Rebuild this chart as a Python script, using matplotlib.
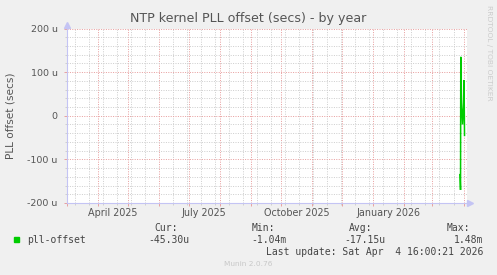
#!/usr/bin/env python3
"""Munin 风格 NTP kernel PLL offset 年视图重绘（rrdtool 外观）"""

import matplotlib
matplotlib.use('Agg')
import matplotlib.pyplot as plt
import matplotlib.dates as mdates
import matplotlib.transforms as mtransforms
from matplotlib.patches import Rectangle
from datetime import datetime, timedelta

# ---- 数据（单位：微秒 u）----
sample_times = [
    datetime(2026, 3, 28, 12), datetime(2026, 3, 29, 0), datetime(2026, 3, 29, 6),
    datetime(2026, 3, 30, 0), datetime(2026, 3, 31, 0), datetime(2026, 4, 1, 0),
    datetime(2026, 4, 1, 12), datetime(2026, 4, 2, 0),
]
pll_offset_u = [-135, -170, 135, 30, -20, 20, 82, -45]

y_ticks = [-200, -100, 0, 100, 200]
y_tick_labels = ['-200 u', '-100 u', '0', '100 u', '200 u']
month_labels = ['April 2025', 'July 2025', 'October 2025', 'January 2026']
month_label_dates = [datetime(2025, 4, 16), datetime(2025, 7, 16),
                     datetime(2025, 10, 16), datetime(2026, 1, 16)]

end_time = datetime(2026, 4, 4, 16, 0, 21)
start_time = end_time - timedelta(days=400)

legend_cols = ['Cur:', 'Min:', 'Avg:', 'Max:']
legend_vals = ['-45.30u', '-1.04m', '-17.15u', '1.48m']

BG = '#f0f0f0'
GREEN = '#00cc00'
MAJOR = '#e8a0a0'
MINOR = '#cfcfcf'
AXIS = '#c4c4f4'
TXT = '#555555'

W, H = 497, 275
fig = plt.figure(figsize=(W / 100, H / 100), dpi=100, facecolor=BG)
ax = fig.add_axes([66.7 / W, 1 - 203 / H, 400.5 / W, 174.5 / H])
ax.set_facecolor('white')

ax.plot(sample_times, pll_offset_u, color=GREEN, linewidth=1.1, solid_joinstyle='miter')

ax.set_xlim(start_time, end_time)
ax.set_ylim(-200, 200)

# 网格：月为主线（红），两周为次线（灰）；纵向 100u 主线，20u 次线
ax.xaxis.set_major_locator(mdates.MonthLocator())
biweekly = []
d = datetime(2025, 3, 9)
while d < end_time:
    biweekly.append(mdates.date2num(d))
    d += timedelta(days=14)
ax.xaxis.set_minor_locator(matplotlib.ticker.FixedLocator(biweekly))
ax.xaxis.set_major_formatter(matplotlib.ticker.NullFormatter())
ax.set_yticks(y_ticks)
ax.set_yticklabels(y_tick_labels)
ax.set_yticks(range(-200, 201, 20), minor=True)

ax.grid(True, which='minor', color=MINOR, linestyle=(0, (1, 1.4)), linewidth=0.72)
ax.grid(True, which='major', color=MAJOR, linestyle=(0, (1, 1.4)), linewidth=0.72)
ax.set_axisbelow(True)

ax.tick_params(axis='both', which='major', length=2.5, width=0.7, color=MAJOR,
               labelsize=6.8, labelcolor=TXT, pad=4)
ax.tick_params(axis='both', which='minor', length=1.5, width=0.7, color=MINOR)

for side in ('top', 'right'):
    ax.spines[side].set_visible(False)
for side in ('left', 'bottom'):
    ax.spines[side].set_color(AXIS)
    ax.spines[side].set_linewidth(0.8)

# 坐标轴箭头
ax.plot([0], [1.02], marker='^', markersize=4, color=AXIS, transform=ax.transAxes,
        clip_on=False)
ax.plot([1.0075], [0], marker='>', markersize=4, color=AXIS, transform=ax.transAxes,
        clip_on=False)

# 月份标签
trans = mtransforms.blended_transform_factory(ax.transData, ax.transAxes)
for lbl, dt in zip(month_labels, month_label_dates):
    ax.text(mdates.date2num(dt), -0.055, lbl, transform=trans, ha='center', va='center',
            fontsize=6.9, color=TXT)

# 标题/轴标签
fig.text(248 / W, 1 - 18.5 / H, 'NTP kernel PLL offset (secs) - by year',
         ha='center', va='center', fontsize=9.1, color=TXT)
fig.text(11 / W, 1 - 116 / H, 'PLL offset (secs)', rotation=90,
         ha='center', va='center', fontsize=7.6, color=TXT)
fig.text(488.5 / W, 1 - 5 / H, 'RRDTOOL / TOBI OETIKER', rotation=270,
         ha='center', va='top', fontsize=5.4, color='#cccccc')

# 图例区
mono = 'DejaVu Sans Mono'
fig.patches.append(Rectangle((14 / W, 1 - 242.3 / H), 5.3 / W, 5 / H,
                             transform=fig.transFigure, color=GREEN))
fig.text(26.7 / W, 1 - 240 / H, 'pll-offset', family=mono, fontsize=7,
         color='#444444', va='center', ha='left')
col_x = [154, 252, 349, 447]
val_right = [189, 287, 385, 483]
for cx, col in zip(col_x, legend_cols):
    fig.text(cx / W, 1 - 228.3 / H, col, family=mono, fontsize=7,
             color='#444444', va='center', ha='left')
for vx, val in zip(val_right, legend_vals):
    fig.text(vx / W, 1 - 240 / H, val, family=mono, fontsize=7,
             color='#444444', va='center', ha='right')
fig.text(483 / W, 1 - 251.7 / H, 'Last update: Sat Apr  4 16:00:21 2026',
         family=mono, fontsize=7, color='#444444', va='center', ha='right')
fig.text(248 / W, 1 - 264.3 / H, 'Munin 2.0.76', fontsize=5.3, color='#c8c8c8',
         ha='center', va='center')

fig.savefig('out.png', dpi=100, facecolor=BG)
